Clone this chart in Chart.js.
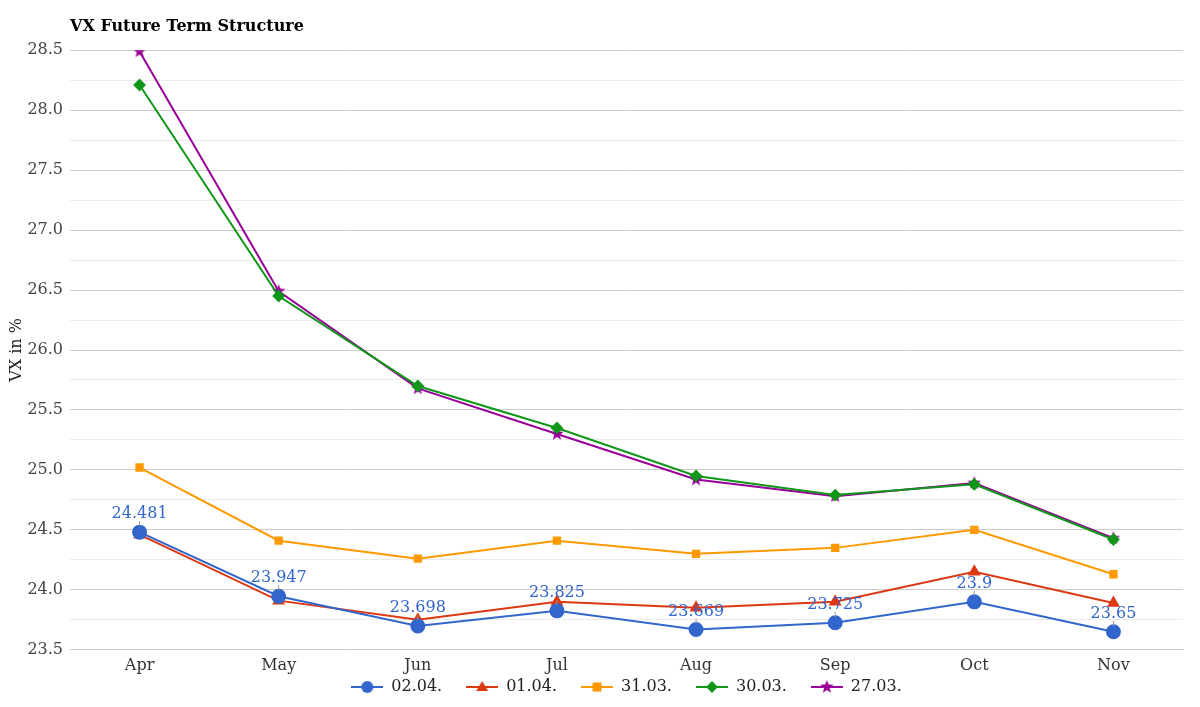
<!DOCTYPE html>
<html>
<head>
<meta charset="utf-8">
<script src="https://cdn.jsdelivr.net/npm/chart.js@4/dist/chart.umd.min.js"></script>
<style>
  body { margin: 0; background: #fff; }
  #wrap { width: 1200px; height: 707px; }
</style>
</head>
<body>
<div id="wrap"><canvas id="myChart"></canvas></div>
<script>
months = ["Apr", "May", "Jun", "Jul", "Aug", "Sep", "Oct", "Nov"]

seriesNames = ["02.04.", "01.04.", "31.03.", "30.03.", "27.03."]

v0204 = [24.481, 23.947, 23.698, 23.825, 23.669, 23.725, 23.9, 23.65]
v0104 = [24.46, 23.91, 23.75, 23.90, 23.85, 23.90, 24.15, 23.89]
v3103 = [25.02, 24.41, 24.26, 24.41, 24.30, 24.35, 24.50, 24.13]
v3003 = [28.21, 26.45, 25.70, 25.35, 24.95, 24.79, 24.88, 24.42]
v2703 = [28.49, 26.49, 25.68, 25.30, 24.92, 24.78, 24.89, 24.43]

colors = ["#3366cc", "#dc3912", "#ff9900", "#109618", "#990099"]
serif = "'DejaVu Serif', serif"

function starImage(size, color) {
    const c = document.createElement("canvas")
    c.width = size
    c.height = size
    const g = c.getContext("2d")
    const cx = size / 2, cy = size / 2, R = size / 2, r = R * 0.42
    g.beginPath()
    for (let i = 0; i < 10; i++) {
        const rad = i % 2 == 0 ? R : r
        const a = -Math.PI / 2 + i * Math.PI / 5
        g.lineTo(cx + rad * Math.cos(a), cy + rad * Math.sin(a))
    }
    g.closePath()
    g.fillStyle = color
    g.fill()
    return c
}

// legend icon: short line with the marker on it
function legendIcon(color, style) {
    const c = document.createElement("canvas")
    c.width = 32
    c.height = 16
    const g = c.getContext("2d")
    g.strokeStyle = color
    g.lineWidth = 2
    g.beginPath()
    g.moveTo(0, 8)
    g.lineTo(32, 8)
    g.stroke()
    g.fillStyle = color
    g.beginPath()
    if (style == "circle") {
        g.arc(16, 8, 6, 0, Math.PI * 2)
        g.fill()
    } else if (style == "triangle") {
        g.moveTo(16, 2); g.lineTo(22, 12); g.lineTo(10, 12); g.closePath(); g.fill()
    } else if (style == "rect") {
        g.fillRect(11.5, 3.5, 9, 9)
    } else if (style == "rectRot") {
        g.moveTo(16, 2); g.lineTo(22, 8); g.lineTo(16, 14); g.lineTo(10, 8); g.closePath(); g.fill()
    } else {
        g.drawImage(starImage(14, color), 9, 1)
    }
    return c
}

styles = ["circle", "triangle", "rect", "rectRot", "star"]
values = [v0204, v0104, v3103, v3003, v2703]
radii = [6.5, 5.5, 4.5, 5, 6]

dataSets = values.map((vals, i) => ({
    label: seriesNames[i],
    data: vals,
    borderColor: colors[i],
    backgroundColor: colors[i],
    borderWidth: 2,
    pointStyle: styles[i] == "star" ? starImage(14, colors[i]) : styles[i],
    pointRadius: radii[i],
    pointHoverRadius: radii[i],
    tension: 0
}))

const valueLabels = {
    id: "valueLabels",
    afterDatasetsDraw(chart) {
        const ctx = chart.ctx
        const meta = chart.getDatasetMeta(0)
        ctx.save()
        ctx.font = "16px " + serif
        ctx.textAlign = "center"
        ctx.textBaseline = "middle"
        meta.data.forEach((pt, i) => {
            ctx.strokeStyle = "#999"
            ctx.lineWidth = 1
            ctx.beginPath()
            ctx.moveTo(pt.x, pt.y - 6)
            ctx.lineTo(pt.x, pt.y - 11)
            ctx.stroke()
            ctx.fillStyle = colors[0]
            ctx.fillText(String(v0204[i]), pt.x, pt.y - 18)
        })
        ctx.restore()
    }
}

// pull the legend closer to the axis labels (wide item gaps, little height)
const legendSqueeze = {
    id: "legendSqueeze",
    afterInit(chart) {
        const legend = chart.legend
        const fit = legend.fit
        legend.fit = function () {
            fit.call(this)
            this.height -= 24
        }
        const draw = legend.draw
        legend.draw = function () {
            this.top -= 26
            draw.call(this)
            this.top += 26
        }
    }
}

new Chart(document.getElementById("myChart"), {
    type: "line",
    data: { labels: months, datasets: dataSets },
    plugins: [valueLabels, legendSqueeze],
    options: {
        responsive: true,
        maintainAspectRatio: false,
        animation: false,
        layout: { padding: { left: 5, right: 17, top: 9, bottom: 0 } },
        scales: {
            x: {
                offset: true,
                grid: { display: false, drawTicks: false },
                border: { color: "#ccc" },
                ticks: { color: "#333", font: { family: serif, size: 16 }, padding: 6 }
            },
            y: {
                min: 23.5,
                max: 28.5,
                border: { display: false },
                grid: {
                    color: (c) => (Math.round(c.tick.value * 4) % 2 == 0 ? "#cccccc" : "#ebebeb"),
                    drawTicks: false
                },
                ticks: {
                    stepSize: 0.25,
                    color: "#444",
                    padding: 7,
                    font: { family: serif, size: 16 },
                    callback: (v) => (Math.round(v * 4) % 2 == 0 ? v.toFixed(1) : "")
                },
                title: {
                    display: true,
                    text: "VX in %",
                    color: "#222",
                    font: { family: serif, size: 16 },
                    padding: 2
                },
                afterFit: (scale) => { scale.width = 65 }
            }
        },
        plugins: {
            title: {
                display: true,
                text: "VX Future Term Structure",
                align: "start",
                fullSize: false,
                color: "#000",
                font: { family: serif, size: 16, weight: "bold" },
                padding: { top: 8, bottom: 14 }
            },
            legend: {
                position: "bottom",
                fullSize: false,
                labels: {
                    usePointStyle: true,
                    pointStyleWidth: 32,
                    color: "#222",
                    font: { family: serif, size: 16 },
                    padding: 24,
                    generateLabels: (chart) => chart.data.datasets.map((ds, i) => ({
                        text: ds.label,
                        pointStyle: legendIcon(colors[i], styles[i]),
                        fillStyle: colors[i],
                        strokeStyle: colors[i],
                        lineWidth: 0,
                        datasetIndex: i,
                        fontColor: "#222"
                    }))
                }
            },
            tooltip: { enabled: false }
        }
    }
});
</script>
</body>
</html>
